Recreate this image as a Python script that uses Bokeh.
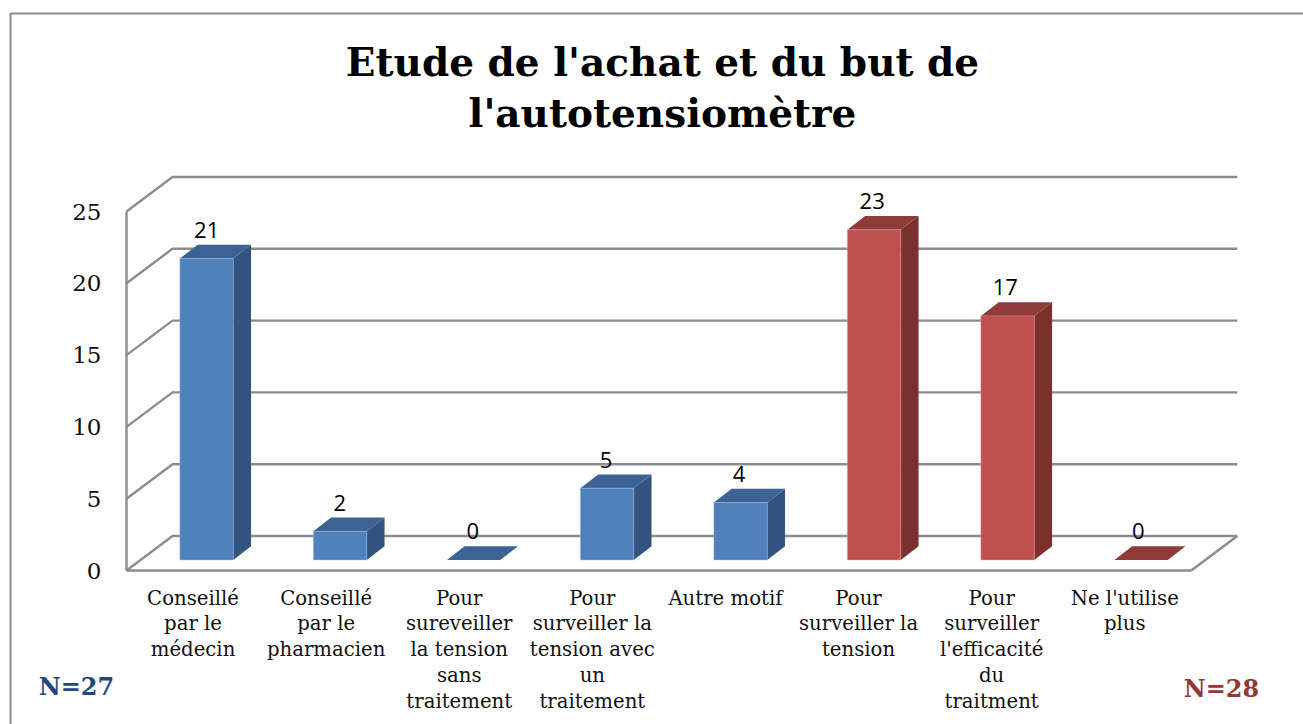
from bokeh.plotting import figure
from bokeh.models import (Range1d, LinearAxis, FixedTicker, ColumnDataSource, LabelSet,
                          Label, BoxAnnotation)
from bokeh.core.properties import value
from bokeh.embed import file_html
from bokeh.resources import INLINE

# ---- data ----
categories = ["Conseillé\npar le\nmédecin", "Conseillé\npar le\npharmacien",
              "Pour\nsureveiller\nla tension\nsans\ntraitement",
              "Pour\nsurveiller la\ntension avec\nun\ntraitement", "Autre motif",
              "Pour\nsurveiller la\ntension", "Pour\nsurveiller\nl'efficacité\ndu\ntraitment",
              "Ne l'utilise\nplus"]
values = [21, 2, 0, 5, 4, 23, 17, 0]
groups = ["N=27", "N=27", "N=27", "N=27", "N=27", "N=28", "N=28", "N=28"]
y_ticks = [0, 5, 10, 15, 20, 25]
title_lines = ["Etude de l'achat et du but de", "l'autotensiomètre"]

# ---- style ----
FACE = {"N=27": "#4f81bd", "N=28": "#c0504d"}
EDGE = {"N=27": "#a5bfdd", "N=28": "#e0aaa8"}
TOP = {"N=27": "#3d6394", "N=28": "#8f3b39"}
SIDE = {"N=27": "#32547e", "N=28": "#7b302e"}
GRID = "#8c8c8c"
SERIF = "DejaVu Serif"

# ---- layout: pixel size of one unit; origin (0, 0) sits at page pixel (126, 570) ----
PAGE_X, PAGE_Y = 0, 0
WIDTH, HEIGHT = 1303, 724
UX, UY = 133.1, 14.36
ORIGIN_X, ORIGIN_Y = 126, 570
fx = lambda px: (px - ORIGIN_X) / UX
fy = lambda py: (ORIGIN_Y - py) / UY

# 3-D projection expressed in data units
DEPTH_X, DEPTH_Y = 46 / UX, 34.5 / UY
BAR_OFF_X, BAR_OFF_Y = 13.5 / UX, 10.5 / UY
LABEL_OFF_X = 13.6 / UX
BAR_W = 53.4 / UX
BAR_DX, BAR_DY = 17.8 / UX, 13.7 / UY
BAR_STEP = 133.5 / UX
n = len(categories)

p = figure(width=WIDTH, height=HEIGHT, output_backend="svg", toolbar_location=None,
           x_range=Range1d(fx(PAGE_X), fx(PAGE_X + WIDTH)),
           y_range=Range1d(fy(PAGE_Y + HEIGHT), fy(PAGE_Y)),
           x_axis_type=None, y_axis_type=None,
           min_border_left=0, min_border_right=0, min_border_top=0, min_border_bottom=0)
p.outline_line_color = None
p.grid.visible = False
p.background_fill_color = "white"

# outer chart border runs off the picture on the right and at the bottom
p.add_layout(BoxAnnotation(left=fx(10), right=fx(1330), top=fy(13), bottom=fy(760),
                           fill_alpha=0, line_color="#8a8a8a", line_alpha=1, line_width=2,
                           level="underlay"))

# walls: slanted gridlines + back gridlines
grid_xs = [[0, DEPTH_X, n + DEPTH_X] for _ in y_ticks] + [[n, n + DEPTH_X]]
grid_ys = [[v, v + DEPTH_Y, v + DEPTH_Y] for v in y_ticks] + [[0, DEPTH_Y]]
p.multi_line(grid_xs, grid_ys, line_color=GRID, line_width=2.4)

# bars
lefts = [0.5 - BAR_W / 2 + BAR_OFF_X + i * BAR_STEP for i in range(n)]
rights = [l + BAR_W for l in lefts]
bottoms = [BAR_OFF_Y] * n
tops = [BAR_OFF_Y + v for v in values]
p.patches([[r, r + BAR_DX, r + BAR_DX, r] for r in rights],
          [[t, t + BAR_DY, b + BAR_DY, b] for t, b in zip(tops, bottoms)],
          fill_color=[SIDE[g] for g in groups], line_color=None)
p.patches([[l, r, r + BAR_DX, l + BAR_DX] for l, r in zip(lefts, rights)],
          [[t, t, t + BAR_DY, t + BAR_DY] for t in tops],
          fill_color=[TOP[g] for g in groups], line_color=None)
# zero-height bars show only their top, so only the others get a pale rim
tall = [i for i, v in enumerate(values) if v > 0]
p.quad(left=[lefts[i] for i in tall], right=[rights[i] for i in tall],
       bottom=[bottoms[i] for i in tall], top=[tops[i] for i in tall],
       fill_color=[FACE[groups[i]] for i in tall], line_color=[EDGE[groups[i]] for i in tall],
       line_width=1, line_alpha=0.45)

# value labels
src = ColumnDataSource(dict(x=[0.5 + LABEL_OFF_X + i for i in range(n)],
                            y=[t + BAR_DY for t in tops], t=[str(v) for v in values]))
p.add_layout(LabelSet(x="x", y="y", text="t", source=src, y_offset=7,
                      text_align="center", text_baseline="bottom",
                      text_font=value("Open Sans"), text_font_size="22px", text_color="#000000"))

# axes, pinned to the front corner of the 3-D box
yax = LinearAxis(ticker=FixedTicker(ticks=y_ticks), bounds=(0, 25), fixed_location=0,
                 major_tick_line_color=None, minor_tick_line_color=None,
                 axis_line_color=GRID, axis_line_width=2.4, major_label_standoff=19,
                 major_label_text_font=SERIF, major_label_text_font_size="23px",
                 major_label_text_color="#111111")
p.add_layout(yax, "left")
xt = [i + 0.5 for i in range(n)]
xax = LinearAxis(ticker=FixedTicker(ticks=xt), bounds=(0, n), fixed_location=0,
                 major_label_overrides={t: c for t, c in zip(xt, categories)},
                 major_tick_line_color=None, minor_tick_line_color=None,
                 axis_line_color=GRID, axis_line_width=2.4, major_label_standoff=10,
                 major_label_orientation="horizontal",
                 major_label_text_font=SERIF, major_label_text_font_size="19.7px",
                 major_label_text_color="#111111", major_label_text_line_height=1.12)
p.add_layout(xax, "below")

# title
for line, py in zip(title_lines, [61, 112]):
    p.add_layout(Label(x=fx(662), y=fy(py), text=line, text_align="center", text_baseline="middle",
                       text_font=SERIF, text_font_style="bold", text_font_size="39px",
                       text_color="#000000"))

# sample sizes
p.add_layout(Label(x=fx(76), y=fy(686), text="N=27", text_align="center", text_baseline="middle",
                   text_font=SERIF, text_font_style="bold", text_font_size="24px", text_color="#1f497d"))
p.add_layout(Label(x=fx(1221), y=fy(688), text="N=28", text_align="center", text_baseline="middle",
                   text_font=SERIF, text_font_style="bold", text_font_size="24px", text_color="#953735"))

open("out.html", "w").write(file_html(p, INLINE))
